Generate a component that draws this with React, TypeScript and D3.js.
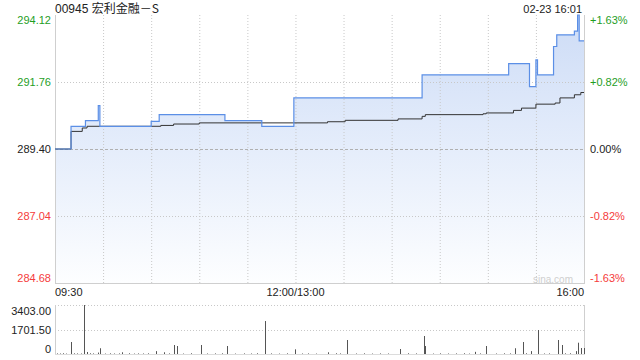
import React from "react";
import * as d3 from "d3";

// ---------- data ----------
const titleCode = "00945 ";
const titleName = "宏利金融－S";
const stamp = "02-23 16:01";
const prevClose = 289.40;
const priceTicks = [294.12, 291.76, 289.40, 287.04, 284.68];
const pctTicks = ["+1.63%", "+0.82%", "0.00%", "-0.82%", "-1.63%"];
const timeLabels = ["09:30", "12:00/13:00", "16:00"];
const timeLabelMinutes = [0, 150, 330];
const volTicks = [3403, 1701.5, 0];
const volTickLabels = ["3403.00", "1701.50", "0"];

// price breakpoints (minute index from 09:30, lunch removed) -> price
const priceMinutes = [0, 10, 19, 27, 28, 60, 65, 106, 129, 149, 229, 283, 296, 300, 301, 311, 313, 324, 326, 327, 330];
const priceValues = [289.40, 290.20, 290.40, 290.93, 290.20, 290.37, 290.61, 290.40, 290.20, 291.20, 292.01, 292.41, 291.60, 292.54, 292.01, 293.01, 293.42, 293.55, 294.12, 293.21, 293.21];

// average price breakpoints
const avgMinutes = [0, 10, 17, 20, 66, 74, 90, 170, 181, 214, 229, 231, 267, 269, 286, 291, 300, 312, 315, 324, 328, 330];
const avgValues = [289.40, 290.02, 290.14, 290.20, 290.23, 290.28, 290.32, 290.36, 290.41, 290.46, 290.55, 290.61, 290.64, 290.67, 290.76, 290.84, 290.98, 291.02, 291.20, 291.31, 291.39, 291.39];

// volume bars
const volMinutes = [10, 18, 20, 27, 28, 42, 63, 68, 74, 76, 91, 107, 131, 150, 170, 182, 215, 230, 231, 262, 269, 287, 292, 297, 301, 314, 316, 325, 326, 328, 330];
const volValues = [833, 3403, 140, 100, 400, 120, 200, 120, 625, 555, 625, 555, 2290, 325, 120, 972, 347, 1250, 555, 150, 555, 400, 833, 200, 1666, 972, 625, 200, 785, 416, 416];
const tinyVolMinutes = [1, 3, 5, 7, 12, 14, 16, 22, 24, 31, 34, 37, 40, 46, 49, 52, 55, 58, 71, 80, 85, 95, 100, 104, 112, 118, 122, 126, 135, 140, 145, 154, 158, 163, 175, 178, 188, 193, 198, 203, 208, 220, 225, 236, 240, 245, 250, 255, 258, 265, 275, 280, 284, 294, 305, 308, 318, 321];
const tinyVolValues = [40, 35, 50, 30, 45, 40, 35, 50, 40, 30, 45, 35, 40, 50, 30, 40, 35, 45, 40, 30, 50, 35, 40, 45, 30, 40, 35, 50, 40, 30, 45, 35, 40, 30, 50, 40, 35, 45, 30, 40, 35, 50, 40, 30, 45, 35, 40, 50, 30, 40, 35, 45, 40, 50, 35, 40, 45, 50];

// ---------- layout ----------
const W = 640, H = 360;
const L = 55, R = 584;
const PT = 15, PB = 283;
const VT = 305, VB = 354;
const FONT = "'Liberation Sans', Arial, sans-serif";
const CJK = "'Noto Sans CJK SC', 'Liberation Sans', sans-serif";
const GREEN = "#1f9e1f";
const RED = "#f53c3c";

export default function App() {
  const x = d3.scaleLinear().domain([0, 330]).range([L, R]);
  const y = d3.scaleLinear().domain([284.68, 294.12]).range([PB, PT]);
  const vy = d3.scaleLinear().domain([0, 3403]).range([VB, VT]);

  const price = priceMinutes.map((m, i) => [m, priceValues[i]] as [number, number]);
  const avg = avgMinutes.map((m, i) => [m, avgValues[i]] as [number, number]);

  const line = d3.line<[number, number]>().x(d => x(d[0])).y(d => y(d[1])).curve(d3.curveStepAfter);
  const area = d3.area<[number, number]>().x(d => x(d[0])).y0(PB).y1(d => y(d[1])).curve(d3.curveStepAfter);

  const gridMinutes = d3.range(30, 330, 30);
  const tickColor = (v: number) => (v > prevClose + 1e-6 ? GREEN : v < prevClose - 1e-6 ? RED : "#222");
  const labelY = (i: number, yy: number) => (i === 0 ? yy + 5 : i === priceTicks.length - 1 ? yy - 5 : yy);

  const bars = [
    ...tinyVolMinutes.map((m, i) => ({ m, v: tinyVolValues[i] })),
    ...volMinutes.map((m, i) => ({ m, v: volValues[i] })),
  ];

  return (
    <div style={{ position: "absolute", left: 0, top: 0, width: W, height: H, background: "#fff" }}>
      <svg width={W} height={H} style={{ display: "block", fontFamily: FONT }}>
        <defs>
          <linearGradient id="fillGrad" gradientUnits="userSpaceOnUse" x1="0" y1={PT} x2="0" y2={PB}>
            <stop offset="0" stopColor="#cddcf6" />
            <stop offset="0.5" stopColor="#e5edfb" />
            <stop offset="1" stopColor="#fdfeff" />
          </linearGradient>
        </defs>

        {/* title */}
        <text x={L} y={12.5} fontSize={12} fill="#222">
          <tspan>{titleCode}</tspan>
          <tspan fontFamily={CJK}>{titleName}</tspan>
        </text>
        <text x={R - 2} y={12.5} fontSize={11} fill="#222" textAnchor="end">{stamp}</text>

        {/* area fill */}
        <path d={area(price) || ""} fill="url(#fillGrad)" />

        {/* vertical grid */}
        {gridMinutes.map(m => (
          <line key={"vg" + m} x1={x(m) + 0.5} x2={x(m) + 0.5} y1={PT} y2={PB} stroke="#c8c8c8" strokeDasharray="1,2" />
        ))}
        {/* horizontal grid */}
        {priceTicks.slice(1, 4).map((v, i) => (
          <line key={"hg" + i} x1={L} x2={R} y1={Math.round(y(v)) + 0.5} y2={Math.round(y(v)) + 0.5}
            stroke={v === prevClose ? "#b0b0b0" : "#c8c8c8"} strokeDasharray={v === prevClose ? "3,2" : "1,2"} />
        ))}

        {/* frame */}
        <line x1={L + 0.5} x2={L + 0.5} y1={PT} y2={PB} stroke="#cfcfcf" />
        <line x1={R + 0.5} x2={R + 0.5} y1={PT} y2={PB} stroke="#cfcfcf" />
        <line x1={L} x2={R + 1} y1={PB + 0.5} y2={PB + 0.5} stroke="#cfcfcf" />

        {/* watermark */}
        <text x={573} y={282.5} fontSize={10} fill="#cfcfcf" textAnchor="end">sina.com</text>

        {/* lines */}
        <path d={line(avg) || ""} fill="none" stroke="#333" strokeWidth={1} />
        <path d={line(price) || ""} fill="none" stroke="#5b8fe6" strokeWidth={1.2} />

        {/* left axis labels */}
        {priceTicks.map((v, i) => (
          <text key={"ly" + i} x={51} y={labelY(i, y(v)) + 4} fontSize={11} textAnchor="end" fill={tickColor(v)}>
            {v.toFixed(2)}
          </text>
        ))}
        {/* right axis labels */}
        {priceTicks.map((v, i) => (
          <text key={"ry" + i} x={590} y={labelY(i, y(v)) + 4} fontSize={11} fill={tickColor(v)}>
            {pctTicks[i]}
          </text>
        ))}

        {/* time labels */}
        {timeLabels.map((t, i) => (
          <text key={"t" + i} x={x(timeLabelMinutes[i])} y={296} fontSize={11} fill="#222"
            textAnchor={i === 0 ? "start" : i === timeLabels.length - 1 ? "end" : "middle"}>
            {t}
          </text>
        ))}

        {/* volume panel */}
        {volTicks.slice(0, 2).map((v, i) => (
          <line key={"vgl" + i} x1={L} x2={R} y1={Math.round(vy(v)) + 0.5} y2={Math.round(vy(v)) + 0.5}
            stroke="#c8c8c8" strokeDasharray="1,2" />
        ))}
        <line x1={L + 0.5} x2={L + 0.5} y1={VT} y2={VB} stroke="#cfcfcf" />
        <line x1={R + 0.5} x2={R + 0.5} y1={VT} y2={VB} stroke="#cfcfcf" />
        <line x1={L} x2={R + 1} y1={VB + 0.5} y2={VB + 0.5} stroke="#dcdcdc" />
        {bars.map((b, i) => (
          <rect key={"vb" + i} x={Math.round(x(b.m))} y={vy(b.v)} width={1} height={VB - vy(b.v)} fill="#555" />
        ))}
        {volTicks.map((v, i) => (
          <text key={"vl" + i} x={51} y={(i === 0 ? vy(v) + 5.5 : i === volTicks.length - 1 ? vy(v) - 5.5 : vy(v)) + 4}
            fontSize={11} textAnchor="end" fill="#222">
            {volTickLabels[i]}
          </text>
        ))}
      </svg>
    </div>
  );
}
